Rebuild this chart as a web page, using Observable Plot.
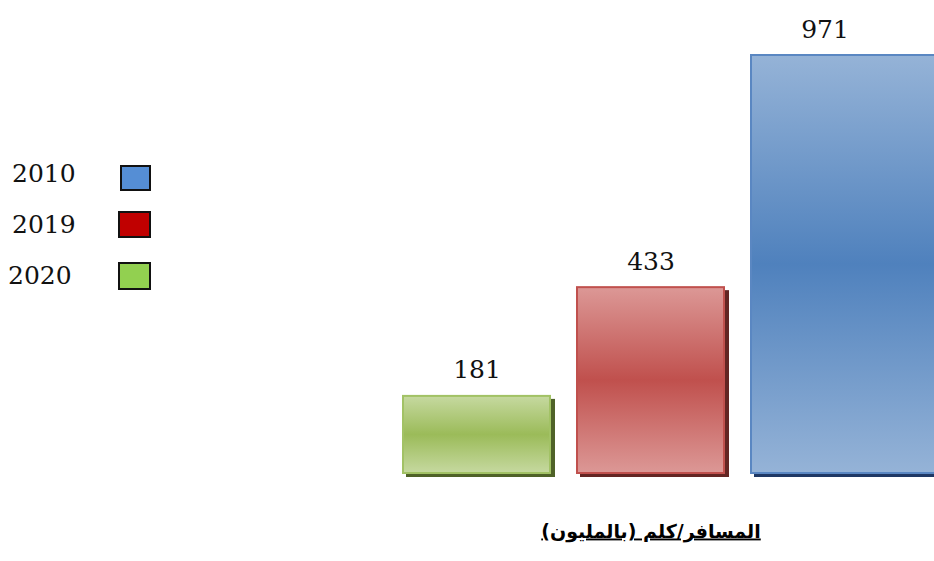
<!DOCTYPE html>
<html>
<head>
<meta charset="utf-8">
<script src="https://cdn.jsdelivr.net/npm/d3@7"></script>
<script src="https://cdn.jsdelivr.net/npm/@observablehq/plot@0.6"></script>
<style>
  html, body { margin: 0; padding: 0; background: #fff; }
  #wrap { position: relative; width: 934px; height: 561px; overflow: hidden; }
  #legend { position: absolute; left: 0; top: 0; }
  .lg-item { position: absolute; display: flex; align-items: center; }
  .lg-text { font-family: "DejaVu Serif", serif; font-size: 25px; color: #111; }
  .lg-sw { position: absolute; border: 2px solid #111; box-sizing: border-box; }
</style>
</head>
<body>
<div id="wrap"><div id="legend"></div></div>
<script>
// ---- data ----
const years = ["2020", "2019", "2010"];
const values = [181, 433, 971];
const legendYears = ["2010", "2019", "2020"];
const xLabel = "المسافر/كلم (بالمليون)";

// ---- styles ----
const legendColor = {"2010": "#558ed5", "2019": "#c00000", "2020": "#92d050"};
const grad = {
  "2020": {light: "#c6d9a0", mid: "#9bbb59", stroke: "#a2c265", shadow: "#4f6228"},
  "2019": {light: "#dc9896", mid: "#c0504d", stroke: "#c0504d", shadow: "#632523"},
  "2010": {light: "#95b3d7", mid: "#4f81bd", stroke: "#5a87c2", shadow: "#1f3864"}
};

const data = years.map((y, i) => ({year: y, value: values[i]}));
const gid = y => `g${y}`;

const defsMark = () => {
  const defs = d3.create("svg:defs");
  for (const y of years) {
    const g = defs.append("linearGradient").attr("id", gid(y))
      .attr("x1", 0).attr("y1", 0).attr("x2", 0).attr("y2", 1);
    g.append("stop").attr("offset", "0%").attr("stop-color", grad[y].light);
    g.append("stop").attr("offset", "50%").attr("stop-color", grad[y].mid);
    g.append("stop").attr("offset", "100%").attr("stop-color", grad[y].light);
  }
  return defs.node();
};

const barOpts = (extra = {}) => ({
  x: "year", y: "value",
  ...extra
});

const main = data.filter(d => d.year !== "2010");
const last = data.filter(d => d.year === "2010");

const chart = Plot.plot({
  width: 934,
  height: 561,
  marginLeft: 402,
  marginRight: 35,
  marginTop: 54,
  marginBottom: 88,
  x: {domain: years, paddingInner: 0.144, paddingOuter: 0, axis: null},
  y: {domain: [0, 971], axis: null},
  marks: [
    defsMark,
    // shadows
    Plot.rectY(main, barOpts({fill: d => grad[d.year].shadow, dx: 4, dy: 4})),
    Plot.rectY(last, barOpts({fill: d => grad[d.year].shadow, dx: 4, dy: 4, insetRight: -50})),
    // bars
    Plot.rectY(main, barOpts({fill: d => `url(#${gid(d.year)})`, stroke: d => grad[d.year].stroke, strokeWidth: 2, insetLeft: 1, insetRight: 1, insetTop: 1})),
    Plot.rectY(last, barOpts({fill: d => `url(#${gid(d.year)})`, stroke: d => grad[d.year].stroke, strokeWidth: 2, insetLeft: 1, insetRight: -50, insetTop: 1})),
    // value labels
    Plot.text(data, {
      x: "year", y: "value", text: d => String(d.value),
      dy: -17, lineAnchor: "bottom",
      fontFamily: "DejaVu Serif", fontSize: 25, fill: "#111"
    }),
    // axis caption
    Plot.text([xLabel], {
      text: d => d, frameAnchor: "bottom", dy: 64,
      fontFamily: "DejaVu Sans", fontWeight: "bold", fontSize: 19, fill: "#000"
    })
  ]
});

d3.select(chart).selectAll("text").filter(function() { return this.textContent === xLabel; })
  .style("text-decoration", "underline").attr("direction", "rtl").attr("text-anchor", "middle");

document.getElementById("wrap").prepend(chart);

// ---- legend ----
const legendPos = {
  "2010": {tx: 12, ty: 159, sx: 120, sy: 165, w: 31, h: 26},
  "2019": {tx: 12, ty: 210, sx: 118, sy: 211, w: 33, h: 27},
  "2020": {tx: 8, ty: 261, sx: 118, sy: 262, w: 33, h: 28}
};
const lg = document.getElementById("legend");
for (const y of legendYears) {
  const p = legendPos[y];
  const t = document.createElement("div");
  t.className = "lg-item lg-text";
  t.style.left = p.tx + "px"; t.style.top = p.ty + "px";
  t.textContent = y;
  lg.appendChild(t);
  const s = document.createElement("div");
  s.className = "lg-sw";
  s.style.left = p.sx + "px"; s.style.top = p.sy + "px";
  s.style.width = p.w + "px"; s.style.height = p.h + "px";
  s.style.background = legendColor[y];
  lg.appendChild(s);
}
</script>
</body>
</html>
